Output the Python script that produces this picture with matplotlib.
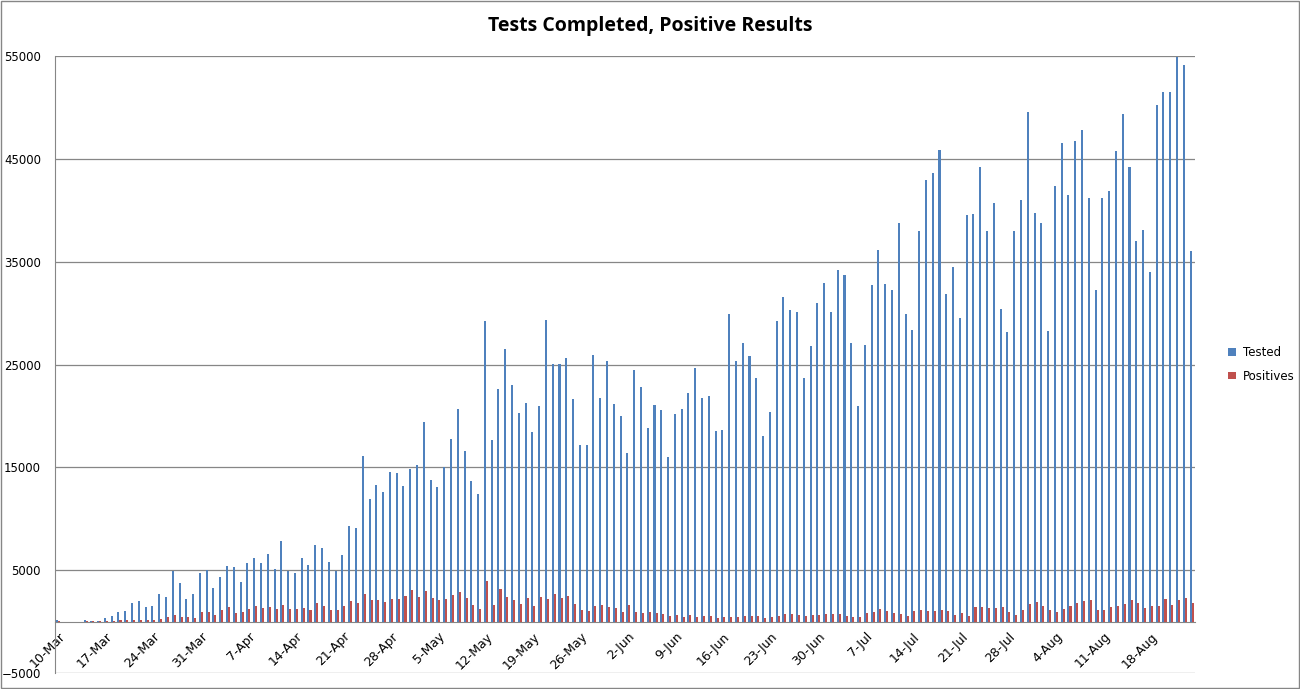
import numpy as np
import matplotlib
matplotlib.use("Agg")
import matplotlib.pyplot as plt
import datetime as dt

start = dt.date(2020, 3, 10)
n_days = 168
dates = [start + dt.timedelta(days=i) for i in range(n_days)]
categories = [f"{d.day}-{d.strftime('%b')}" for d in dates]

tested = [
    200, 0, 0, 0, 160, 100, 100, 300, 520, 970, 1070, 1850, 2040, 1390, 1560, 2660,
    2370, 4890, 3790, 2240, 2660, 4700, 5050, 3240, 4310, 5440, 5350, 3890, 5700, 6220,
    5740, 6610, 5150, 7870, 4890, 4760, 6220, 5540, 7480, 7190, 5830, 4890, 6510, 9300,
    9100, 16140, 11920, 13280, 12600, 14550, 14450, 13190, 14840, 15230, 19410, 13770,
    13090, 15030, 17760, 20670, 16590, 13670, 12410, 29220, 17660, 22620, 26500, 23000,
    20280, 21250, 18440, 20960, 29320, 25010, 25010, 25630, 21640, 17170, 17170, 25920,
    21740, 25340, 21160, 19990, 16390, 24460, 22780, 18860, 21090, 20610, 16040, 20220,
    20700, 22260, 24690, 21770, 21970, 18570, 18660, 29940, 25370, 27120, 25860, 23720,
    18080, 20410, 29260, 31590, 30330, 30130, 23720, 26830, 31010, 32950, 30130, 34210,
    33730, 27120, 21000, 26920, 32690, 36100, 32850, 32270, 38800, 29940, 28380, 38000,
    42900, 43600, 45900, 31900, 34500, 29500, 39500, 39600, 44200, 38000, 40700, 30400,
    28200, 38000, 41000, 49600, 39700, 38800, 28300, 42400, 46500, 41500, 46700, 47800,
    41200, 32200, 41200, 41900, 45800, 49400, 44200, 37000, 38100, 34000, 50200, 51500,
    51500, 54900, 54100, 36000,
]
positives = [
    60, 0, 0, 0, 50, 40, 60, 80, 100, 120, 150, 150, 200, 150, 200, 250,
    400, 650, 400, 450, 300, 900, 900, 600, 1100, 1400, 850, 900, 1200, 1500,
    1300, 1400, 1200, 1600, 1200, 1200, 1300, 1100, 1800, 1500, 1100, 1100, 1520, 2010,
    1810, 2690, 2100, 2100, 1910, 2200, 2200, 2490, 3080, 2400, 2980, 2300,
    2100, 2200, 2590, 2880, 2300, 1620, 1230, 3950, 1620, 3180, 2400, 2100,
    1720, 2300, 1520, 2400, 2200, 2690, 2300, 2490, 1720, 1130, 1040, 1520,
    1620, 1430, 1330, 940, 1620, 940, 840, 900, 840, 750, 580, 650,
    490, 650, 490, 580, 580, 390, 490, 490, 490, 580, 580, 580,
    390, 490, 580, 780, 780, 650, 580, 650, 650, 780, 780, 780,
    580, 490, 490, 870, 970, 1260, 1070, 870, 780, 580, 1070, 1130,
    1000, 1000, 1100, 1000, 600, 800, 500, 1400, 1400, 1300, 1300, 1400,
    900, 600, 1100, 1700, 1900, 1500, 1100, 900, 1200, 1500, 1800, 2000,
    2100, 1100, 1100, 1400, 1500, 1700, 2100, 1800, 1300, 1500, 1500, 2200,
    1600, 2100, 2300, 1800,
]
tick_labels = categories[::7]

blue = "#4F81BD"
red = "#C0504D"

fig = plt.figure(figsize=(13.0, 6.89), dpi=100)
fig.patch.set_facecolor("white")
ax = fig.add_axes([55/1300, 1-673/689, 1140/1300, 617/689])

x = np.arange(n_days)
w = 0.3
ax.bar(x - w/2, tested, width=w, color=blue, label="Tested", zorder=3)
ax.bar(x + w/2, positives, width=w, color=red, label="Positives", zorder=3)

ax.set_xlim(-0.5, n_days - 0.5)
ax.set_ylim(-5000, 55000)
ax.set_yticks(range(-5000, 55001, 10000))
ax.tick_params(axis="y", length=0, labelsize=8.5, pad=10)
ax.grid(axis="y", color="#868686", linewidth=0.9, zorder=0)

ax.spines["bottom"].set_position(("data", 0))
ax.spines["bottom"].set_color("#868686")
ax.spines["left"].set_color("#868686")
ax.spines["top"].set_visible(False)
ax.spines["right"].set_visible(False)
ax.set_xticks(x[::7])
ax.set_xticklabels(tick_labels, rotation=45, ha="right", rotation_mode="anchor", fontsize=9)
ax.tick_params(axis="x", length=0, pad=6)

fig.suptitle("Tests Completed, Positive Results", y=1-26/689, va="center",
             fontsize=14, fontweight="bold", family="Open Sans")
ax.legend(loc="center left", bbox_to_anchor=(1.02, 0.5), frameon=False, fontsize=8.5,
          handlelength=0.6, handleheight=0.6, labelspacing=0.9, handletextpad=0.6)

fig.patches.append(plt.Rectangle((0.001, 0.001), 0.998, 0.998, transform=fig.transFigure,
                                 fill=False, edgecolor="#868686", linewidth=1))
fig.savefig("out.png", dpi=100)
